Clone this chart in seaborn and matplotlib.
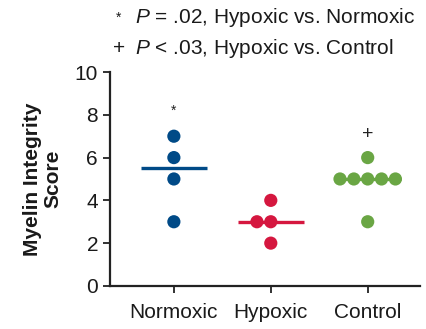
import numpy as np
import pandas as pd
import matplotlib
matplotlib.use("Agg")
import matplotlib.pyplot as plt
import seaborn as sns

# Values
groups = ["Normoxic", "Hypoxic", "Control"]
normoxic = [7, 6, 5, 3]
hypoxic = [4, 3, 3, 2]
control = [6, 5, 5, 5, 5, 5, 3]
colors = ["#004a87", "#d5173f", "#6aa644"]
y_ticks = [0, 2, 4, 6, 8, 10]

df = pd.DataFrame({
    "group": ["Normoxic"] * len(normoxic) + ["Hypoxic"] * len(hypoxic) + ["Control"] * len(control),
    "score": normoxic + hypoxic + control,
})

sns.set_style("ticks")
plt.rcParams["font.family"] = ["Liberation Sans", "DejaVu Sans"]
plt.rcParams["mathtext.fontset"] = "custom"
plt.rcParams["mathtext.it"] = "Liberation Sans:italic"
plt.rcParams["mathtext.rm"] = "Liberation Sans"
plt.rcParams["text.color"] = "#1a1a1a"

fig = plt.figure(figsize=(4.26, 3.29), dpi=100)
ax = fig.add_axes([0.258, 0.131, 0.728, 0.650])

sns.swarmplot(data=df, x="group", y="score", hue="group", order=groups,
              palette=colors, size=9.5, legend=False, ax=ax, zorder=3)

# median lines
for i, (g, c) in enumerate(zip(groups, colors)):
    med = np.median(df.loc[df["group"] == g, "score"])
    ax.hlines(med, i - 0.34, i + 0.34, color=c, lw=2.4, zorder=2)

# significance marks
ax.text(0, 8.2, "*", ha="center", va="center", fontsize=10, color="#222222")
ax.text(2, 7.1, "+", ha="center", va="center", fontsize=14, color="#222222")

ax.set_xlim(-0.66, 2.54)
ax.set_ylim(0, 10)
ax.set_yticks(y_ticks)
ax.set_xlabel("")
ax.set_ylabel("Myelin Integrity\nScore", fontsize=15, fontweight="bold", labelpad=9,
              color="#1a1a1a", linespacing=1.05)
ax.tick_params(axis="both", labelsize=15, length=5, width=1.3, color="#222222",
               labelcolor="#1a1a1a")
ax.tick_params(axis="x", pad=7)
for s in ["left", "bottom"]:
    ax.spines[s].set_linewidth(1.6)
    ax.spines[s].set_color("#222222")
sns.despine(ax=ax)

fig.text(0.272, 0.945, "*", ha="left", va="center", fontsize=10)
fig.text(0.317, 0.948, r"$\it{P}$ = .02, Hypoxic vs. Normoxic", ha="left", va="center", fontsize=15)
fig.text(0.266, 0.853, "+", ha="left", va="center", fontsize=15)
fig.text(0.317, 0.853, r"$\it{P}$ < .03, Hypoxic vs. Control", ha="left", va="center", fontsize=15)

fig.savefig("out.png", dpi=100)
